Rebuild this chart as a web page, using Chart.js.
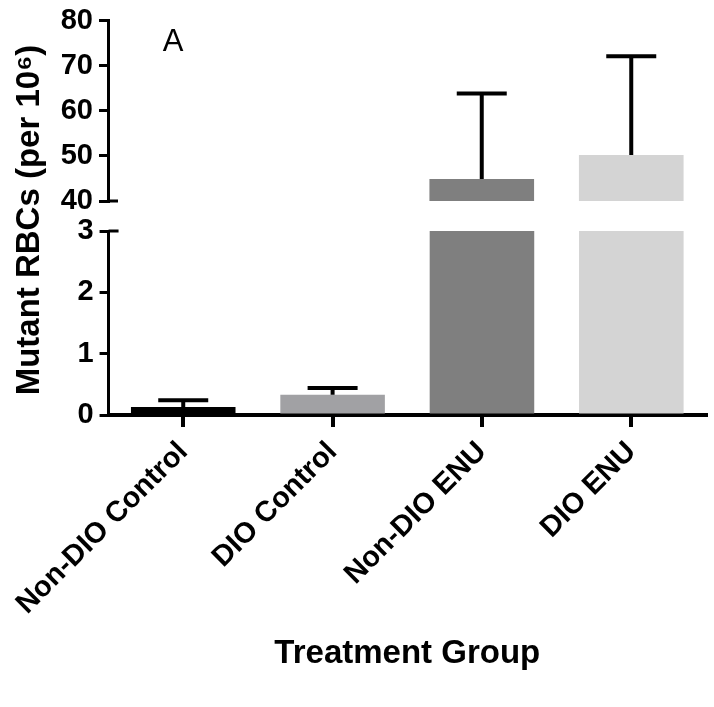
<!DOCTYPE html>
<html>
<head>
<meta charset="utf-8">
<script src="https://cdn.jsdelivr.net/npm/chart.js@4.4.1/dist/chart.umd.min.js"></script>
<style>
  body { margin: 0; background: #fff; }
  #wrap { position: relative; width: 714px; height: 707px; }
  canvas { position: absolute; left: 0; top: 0; }
</style>
</head>
<body>
<div id="wrap">
  <canvas id="lower" width="714" height="707"></canvas>
  <canvas id="upper" width="714" height="707"></canvas>
</div>
<script>
// data
const groups = ['Non-DIO Control', 'DIO Control', 'Non-DIO ENU', 'DIO ENU'];
const means = [0.13, 0.33, 44.9, 50.2];
const sdUpper = [0.11, 0.11, 18.9, 21.9];
const barColors = ['#000000', '#a1a1a4', '#7f7f7f', '#d4d4d4'];
const lowerRange = [0, 3];
const upperRange = [40, 80];

const FONT = "'Liberation Sans', Arial, sans-serif";

// error bars (upper only) drawn from the same arrays
const errorBars = {
  id: 'errorBars',
  afterDatasetsDraw(chart) {
    const ctx = chart.ctx;
    const area = chart.chartArea;
    const y = chart.scales.y;
    const meta = chart.getDatasetMeta(0);
    ctx.save();
    ctx.beginPath();
    ctx.rect(area.left, area.top - 3, area.right - area.left, area.bottom - area.top + 3);
    ctx.clip();
    ctx.strokeStyle = '#000';
    ctx.lineWidth = 4;
    meta.data.forEach((bar, i) => {
      const hi = means[i] + sdUpper[i];
      if (hi < y.min || means[i] > y.max) return;
      const yHi = y.getPixelForValue(hi);
      const yLo = y.getPixelForValue(Math.max(means[i], y.min));
      ctx.beginPath();
      ctx.moveTo(bar.x, yLo);
      ctx.lineTo(bar.x, yHi);
      ctx.moveTo(bar.x - 25, yHi);
      ctx.lineTo(bar.x + 25, yHi);
      ctx.stroke();
    });
    ctx.restore();
  }
};

// little inward tick where the axis is broken, plus free text
const breakMark = {
  id: 'breakMark',
  afterDraw(chart, args, opts) {
    const ctx = chart.ctx;
    const y = chart.scales.y;
    const py = y.getPixelForValue(opts.value);
    ctx.save();
    ctx.strokeStyle = '#000';
    ctx.lineWidth = 3;
    ctx.beginPath();
    ctx.moveTo(chart.chartArea.left, py);
    ctx.lineTo(chart.chartArea.left + 10, py);
    ctx.stroke();
    if (opts.text) {
      ctx.fillStyle = '#000';
      ctx.font = opts.text.font;
      ctx.textAlign = 'center';
      ctx.textBaseline = 'middle';
      ctx.translate(opts.text.x, opts.text.y);
      ctx.rotate(opts.text.rot || 0);
      ctx.fillText(opts.text.str, 0, 0);
    }
    ctx.restore();
  }
};

function yAxis(range) {
  return {
    min: range[0],
    max: range[1],
    afterFit(scale) { scale.width = 108; },
    border: { display: true, color: '#000', width: 3 },
    grid: { drawOnChartArea: false, drawTicks: true, tickLength: 9, color: '#000', lineWidth: 3 },
    ticks: {
      stepSize: range[1] > 10 ? 10 : 1,
      color: '#000',
      padding: 6,
      font: { family: FONT, size: 29, weight: 'bold', lineHeight: 1 }
    }
  };
}

function barData() {
  return {
    labels: groups,
    datasets: [{
      data: means,
      backgroundColor: barColors,
      borderWidth: 0,
      categoryPercentage: 1,
      barPercentage: 0.7,
      clip: 0
    }]
  };
}

// lower segment 0-3 with the category axis
new Chart(document.getElementById('lower'), {
  type: 'bar',
  data: barData(),
  options: {
    responsive: false,
    animation: false,
    layout: { padding: { top: 231, right: 8, left: 0, bottom: 0 } },
    plugins: {
      legend: { display: false },
      tooltip: { enabled: false },
      breakMark: {
        value: lowerRange[1],
        text: { str: 'Mutant RBCs (per 10\u2076)', x: 30, y: 220, rot: -Math.PI / 2, font: 'bold 33px ' + FONT }
      }
    },
    scales: {
      x: {
        afterFit(scale) { scale.height = 707 - 415; },
        border: { display: true, color: '#000', width: 4 },
        grid: { offset: false, drawOnChartArea: false, drawTicks: true, tickLength: 12, color: '#000', lineWidth: 4 },
        ticks: {
          color: '#000',
          minRotation: 45,
          maxRotation: 45,
          padding: 8,
          font: { family: FONT, size: 29, weight: 'bold' }
        },
        title: {
          display: true,
          text: 'Treatment Group',
          color: '#000',
          padding: { top: 0, bottom: 33 },
          font: { family: FONT, size: 33, weight: 'bold' }
        }
      },
      y: yAxis(lowerRange)
    }
  },
  plugins: [errorBars, breakMark]
});

// upper segment 40-80
new Chart(document.getElementById('upper'), {
  type: 'bar',
  data: barData(),
  options: {
    responsive: false,
    animation: false,
    layout: { padding: { top: 17, right: 8, left: 0, bottom: 707 - 201 } },
    plugins: {
      legend: { display: false },
      tooltip: { enabled: false },
      breakMark: {
        value: upperRange[0],
        text: { str: 'A', x: 173, y: 42, font: '31px ' + FONT }
      }
    },
    scales: {
      x: { display: false },
      y: yAxis(upperRange)
    }
  },
  plugins: [errorBars, breakMark]
});
</script>
</body>
</html>
